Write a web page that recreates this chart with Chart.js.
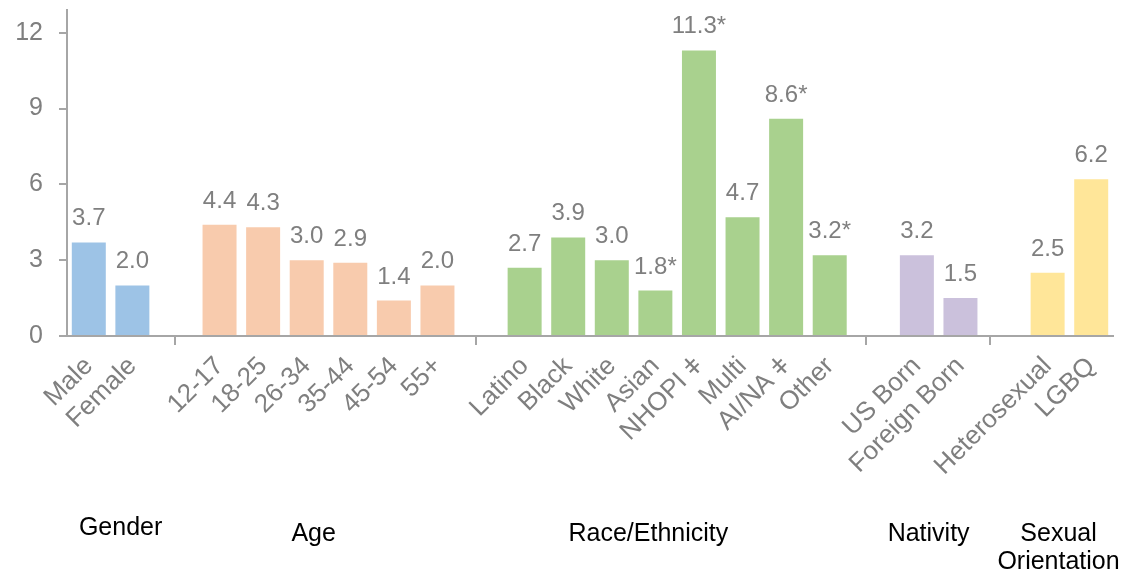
<!DOCTYPE html>
<html>
<head>
<meta charset="utf-8">
<script src="https://cdn.jsdelivr.net/npm/chart.js@4.4.0/dist/chart.umd.min.js"></script>
<style>
    html, body { margin: 0; padding: 0; background: #fff; }
    #wrap { width: 1135px; height: 572px; }
</style>
</head>
<body>
<div id="wrap"><canvas id="chart"></canvas></div>
<script>
// 分类（空字符串是组与组之间的空位）
const categories = ['Male', 'Female', '',
    '12-17', '18-25', '26-34', '35-44', '45-54', '55+', '',
    'Latino', 'Black', 'White', 'Asian', 'NHOPI ǂ', 'Multi', 'AI/NA ǂ', 'Other', '',
    'US Born', 'Foreign Born', '',
    'Heterosexual', 'LGBQ'];
const values = [3.7, 2.0, null,
    4.4, 4.3, 3.0, 2.9, 1.4, 2.0, null,
    2.7, 3.9, 3.0, 1.8, 11.3, 4.7, 8.6, 3.2, null,
    3.2, 1.5, null,
    2.5, 6.2];
const valueNotes = ['', '', '',
    '', '', '', '', '', '', '',
    '', '', '', '*', '*', '', '*', '*', '',
    '', '', '',
    '', ''];
const groupOf = [0, 0, -1, 1, 1, 1, 1, 1, 1, -1, 2, 2, 2, 2, 2, 2, 2, 2, -1, 3, 3, -1, 4, 4];
const groupNames = [['Gender'], ['Age'], ['Race/Ethnicity'], ['Nativity'], ['Sexual', 'Orientation']];
const yTicks = [0, 3, 6, 9, 12];

// 样式
const groupColors = ['#9DC3E6', '#F8CBAD', '#A9D18E', '#CBC1DC', '#FFE699'];
const axisColor = '#A6A6A6';
const textGray = '#7F7F7F';
const fontFamily = '"Liberation Sans", Arial, sans-serif';

// 分组标签和分隔线的位置（以分类序号表示）
const groupLabelAt = [0.73, 5.16, 12.84, 19.27, 22.25];
const groupLabelY = [535, 541, 541, 541, 541];
const separatorAt = [1.97, 8.88, 17.83, 20.67];

Chart.defaults.font.family = fontFamily;

// 数值标签、分隔线、分组名称
const extrasPlugin = {
    id: 'extras',
    afterDatasetsDraw(chart) {
        const ctx = chart.ctx;
        const meta = chart.getDatasetMeta(0);
        ctx.save();
        ctx.font = '24px ' + fontFamily;
        ctx.fillStyle = textGray;
        ctx.textAlign = 'center';
        ctx.textBaseline = 'alphabetic';
        meta.data.forEach((bar, i) => {
            if (values[i] === null) return;
            ctx.fillText(values[i].toFixed(1) + valueNotes[i], bar.x, bar.y - 17);
        });
        ctx.restore();
    },
    afterDraw(chart) {
        const ctx = chart.ctx;
        const x = chart.scales.x;
        const bottom = chart.chartArea.bottom;
        ctx.save();
        ctx.strokeStyle = axisColor;
        ctx.lineWidth = 2;
        separatorAt.forEach(v => {
            const px = Math.round(x.getPixelForValue(v));
            ctx.beginPath();
            ctx.moveTo(px, bottom);
            ctx.lineTo(px, bottom + 9);
            ctx.stroke();
        });

        ctx.font = '25px ' + fontFamily;
        ctx.fillStyle = '#000';
        ctx.textAlign = 'center';
        ctx.textBaseline = 'alphabetic';
        groupNames.forEach((lines, g) => {
            const px = x.getPixelForValue(groupLabelAt[g]);
            lines.forEach((line, k) => {
                ctx.fillText(line, px, groupLabelY[g] + k * 28);
            });
        });
        ctx.restore();
    }
};

new Chart(document.getElementById('chart'), {
    type: 'bar',
    data: {
        labels: categories,
        datasets: [{
            data: values,
            backgroundColor: groupOf.map(g => g < 0 ? 'transparent' : groupColors[g]),
            barPercentage: 0.78,
            categoryPercentage: 1.0
        }]
    },
    options: {
        responsive: true,
        maintainAspectRatio: false,
        animation: false,
        layout: { padding: { left: 16, right: 22, top: 10, bottom: 0 } },
        plugins: {
            legend: { display: false },
            tooltip: { enabled: false }
        },
        scales: {
            x: {
                offset: true,
                grid: { display: false, drawTicks: false },
                border: { color: axisColor, width: 2 },
                ticks: {
                    color: textGray,
                    font: { size: 26 },
                    minRotation: 45,
                    maxRotation: 45,
                    autoSkip: false,
                    padding: 15
                },
                afterFit(scale) {
                    scale.height = 236;
                    scale.paddingLeft = 0;
                    scale.paddingRight = 0;
                }
            },
            y: {
                min: 0,
                max: 12.9,
                grid: {
                    drawOnChartArea: false,
                    color: axisColor,
                    lineWidth: 2,
                    tickLength: 8
                },
                border: { color: axisColor, width: 2 },
                ticks: {
                    color: textGray,
                    font: { size: 25 },
                    padding: 16
                },
                afterBuildTicks(scale) {
                    scale.ticks = yTicks.map(v => ({ value: v }));
                },
                afterFit(scale) {
                    scale.width = 51;
                    scale.paddingTop = 0;
                    scale.paddingBottom = 0;
                }
            }
        }
    },
    plugins: [extrasPlugin]
});
</script>
</body>
</html>
